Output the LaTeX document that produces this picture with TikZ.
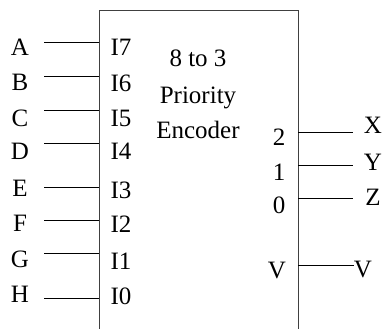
\documentclass[tikz,border=0pt]{standalone}
\usepackage{fontspec}
\setmainfont{Liberation Serif}
\begin{document}
\begin{tikzpicture}[x=1pt,y=-1pt,
  lbl/.style={inner sep=0pt,anchor=base,font=\fontsize{25}{30}\selectfont},
  wire/.style={draw=black,line width=1pt},
  boxline/.style={draw=black!75,line width=1pt}]
\useasboundingbox (0,0) rectangle (383,329);
% box (open at bottom)
\coordinate (bl) at (99,329);
\coordinate (tl) at (99,11);
\coordinate (tr) at (298,11);
\coordinate (br) at (298,329);
\draw[boxline] (bl) -- (tl) -- (tr) -- (br);
% title
\node[lbl] (t1) at (198,66.5) {8 to 3};
\node[lbl] (t2) at (198,103) {Priority};
\node[lbl] (t3) at (198,138) {Encoder};
% inputs
\foreach \nm/\pin/\ly/\ty/\py in {A/I7/43/55.5/56, B/I6/77/91/91.5, C/I5/110/126/126, D/I4/143/159/159,
  E/I3/187/196.5/198.5, F/I2/220/231/232, G/I1/253/267/269.5, H/I0/298/302.5/304.5}{
  \coordinate (in\nm) at (44,\ly);
  \coordinate (pin\nm) at (99,\ly);
  \draw[wire] (in\nm) -- (pin\nm);
  \node[lbl] (lab\nm) at (20,\ty) {\nm};
  \node[lbl] (pl\nm) at (121,\py) {\pin};
}
% outputs
\foreach \nm/\pin/\ly/\ty/\py/\tx in {X/2/132/133.5/145/373, Y/1/165/170.5/180/373, Z/0/198/205.5/213/373}{
  \coordinate (out\nm) at (353,\ly);
  \coordinate (po\nm) at (298,\ly);
  \draw[wire] (po\nm) -- (out\nm);
  \node[lbl] (lab\nm) at (\tx,\ty) {\nm};
  \node[lbl] (pl\nm) at (279,\py) {\pin};
}
\coordinate (poV) at (298,265);
\node[lbl] (labV) at (363,277.5) {V};
\node[lbl] (plV) at (277,278.5) {V};
\draw[wire] (poV) -- (labV.west |- poV);
\end{tikzpicture}
\end{document}
